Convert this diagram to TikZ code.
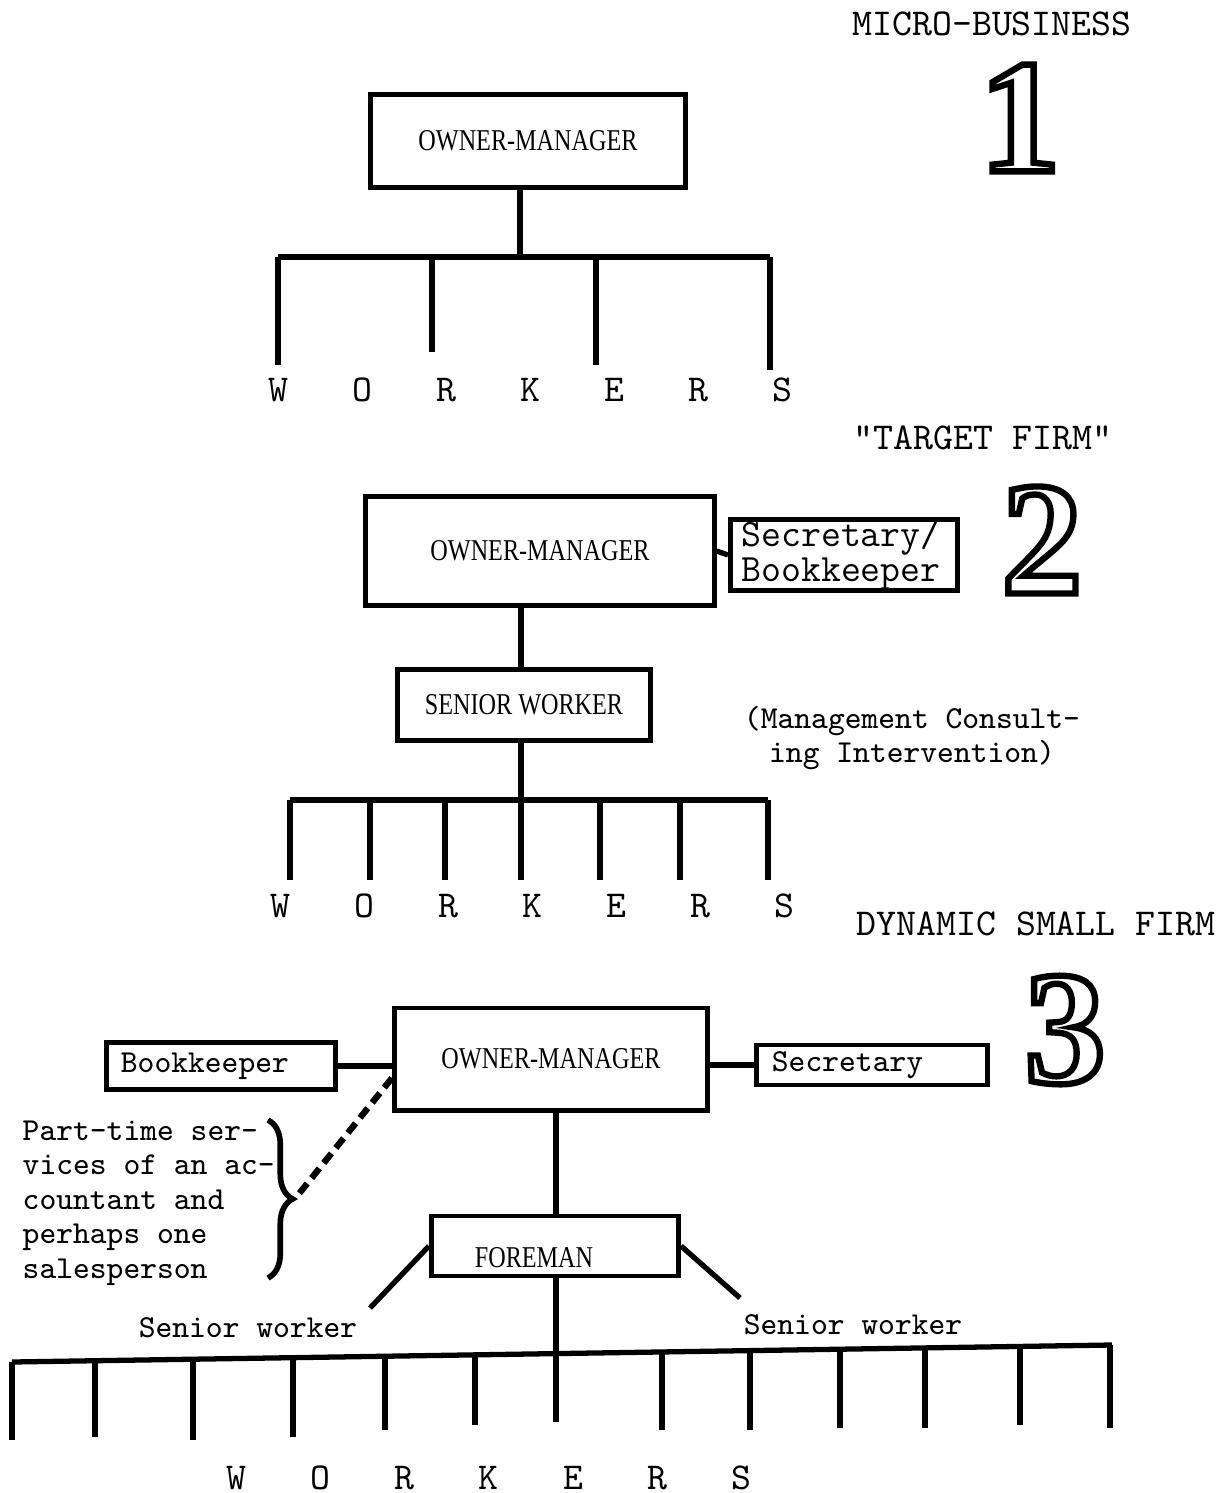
\documentclass[tikz,border=0pt]{standalone}
\usepackage{fontspec}
\setmainfont{Liberation Serif}
\newfontfamily\boxfont[FakeStretch=0.8]{Liberation Serif}
\newfontfamily\numfont{Liberation Serif Bold}
\usetikzlibrary{decorations.pathreplacing}

% hollow numerals (text drawn as outline)
\newcommand{\outlined}[1]{\special{pdf:literal direct 1 Tr 1.8 w}#1\special{pdf:literal direct 0 Tr 0.4 w}}

\begin{document}
\begin{tikzpicture}[x=0.01cm,y=-0.01cm,
  box/.style={draw,line width=1.4pt,inner sep=0pt},
  tree/.style={line width=1.5pt},
  bigtitle/.style={font=\ttfamily\fontsize{10.8}{12}\selectfont},
  note/.style={font=\ttfamily\fontsize{9.1}{9.8}\selectfont},
  boxlabel/.style={font=\boxfont\fontsize{8.6}{10}\selectfont},
  numeral/.style={font=\numfont\fontsize{46}{46}\selectfont},
  letter/.style={font=\ttfamily\fontsize{10.8}{12}\selectfont}]
\useasboundingbox (0,0) rectangle (1218,1493);

% --- 1: micro-business
\node[bigtitle] (title1) at (992,24) {MICRO-BUSINESS};
\node[numeral] (num1) at (1020,118) {\outlined{1}};
\node[box,boxlabel,minimum width=3.15cm,minimum height=0.93cm] (om1) at (528,141) {OWNER-MANAGER};
\coordinate (bar1) at (520,257);
\draw[tree] (om1.south -| bar1) -- (bar1);
\draw[tree] (278,257) -- (770,257);
\foreach \x/\y in {278/365,432/352,596/365,770/370}
  \draw[tree] (\x,257) -- (\x,\y);
\foreach \l [count=\i] in {W,O,R,K,E,R,S}
  \node[letter] (wa\i) at ({278+84*(\i-1)},390) {\l};

% --- 2: target firm
\node[bigtitle] (title2) at (983,438) {"TARGET FIRM"};
\node[numeral] (num2) at (1042,540) {\outlined{2}};
\node[box,boxlabel,minimum width=3.48cm,minimum height=1.09cm] (om2) at (540,551) {OWNER-MANAGER\hspace{15pt}};
\node[box,font=\ttfamily\fontsize{11}{9.8}\selectfont,align=left,text width=2.05cm,
  minimum width=2.27cm,minimum height=0.71cm] (sec2) at (844,555) {Secretary/\\Bookkeeper};
\draw[tree] (om2.east) -- (sec2.west);
\node[box,boxlabel,minimum width=2.52cm,minimum height=0.71cm] (sw2) at (524,705) {SENIOR WORKER};
\coordinate (bar2) at (521,800);
\draw[tree] (om2.south -| bar2) -- (sw2.north -| bar2);
\draw[tree] (sw2.south -| bar2) -- (bar2);
\node[note,align=center] (mci) at (912,738) {(Management Consult-\\ing Intervention)};
\draw[tree] (290,800) -- (768,800);
\foreach \x in {290,370,445,521,600,680,768}
  \draw[tree] (\x,800) -- (\x,880);
\foreach \l [count=\i] in {W,O,R,K,E,R,S}
  \node[letter] (wb\i) at ({280+84*(\i-1)},906) {\l};

% --- 3: dynamic small firm
\node[bigtitle] (title3) at (1036,924) {DYNAMIC SMALL FIRM};
\node[numeral] (num3) at (1065,1030) {\outlined{3}};
\node[box,boxlabel,minimum width=3.12cm,minimum height=1.02cm] (om3) at (551,1059) {OWNER-MANAGER\hspace{10pt}};
\node[box,note,align=left,text width=2.0cm,minimum width=2.29cm,minimum height=0.47cm] (bk3) at (221,1066) {\raisebox{-2pt}{Bookkeeper}};
\node[box,note,align=left,text width=2.0cm,minimum width=2.31cm,minimum height=0.40cm] (sec3) at (872,1065) {Secretary};
\draw[tree] (bk3.east) -- (bk3.east -| om3.west);
\draw[tree] (om3.east |- sec3.west) -- (sec3.west);
\node[note,align=left,anchor=north west,inner sep=0pt] (pt) at (22,1120)
  {Part-time ser-\\vices of an ac-\\countant and\\perhaps one\\salesperson};
\coordinate (btop) at (268,1120);
\coordinate (bbot) at (268,1278);
\coordinate (btip) at (298,1195);
\coordinate (dstart) at (392,1078);
\draw[line width=1.6pt,decorate,decoration={brace,amplitude=7pt}] (btop) -- (bbot);
\draw[line width=1.8pt,dash pattern=on 3.5pt off 2pt] (dstart) -- (btip);
\node[box,minimum width=2.47cm,minimum height=0.60cm] (fm) at (555,1246) {};
\node[boxlabel] (fmlab) at (534,1258) {FOREMAN};
\coordinate (bar3) at (556,1354);
\draw[tree] (om3.south -| bar3) -- (fm.north -| bar3);
\draw[tree] (fm.south -| bar3) -- (bar3);
\coordinate (swl) at (370,1308);
\coordinate (swr) at (740,1298);
\draw[tree] (fm.west) -- (swl);
\draw[tree] (fm.east) -- (swr);
\node[note] (swlab1) at (248,1328) {Senior worker};
\node[note] (swlab2) at (853,1325) {Senior worker};
\draw[tree] (12,1362) -- (1112,1345);
\foreach \x/\y in {12/1440,95/1437,193/1440,293/1437,385/1430,475/1425,556/1422,
  662/1430,750/1430,840/1428,925/1428,1020/1425,1110/1428}
  \draw[tree] (\x,{1362-0.01545*(\x-12)}) -- (\x,\y);
\foreach \l [count=\i] in {W,O,R,K,E,R,S}
  \node[letter] (wc\i) at ({236+84.3*(\i-1)},1478) {\l};
\end{tikzpicture}
\end{document}
